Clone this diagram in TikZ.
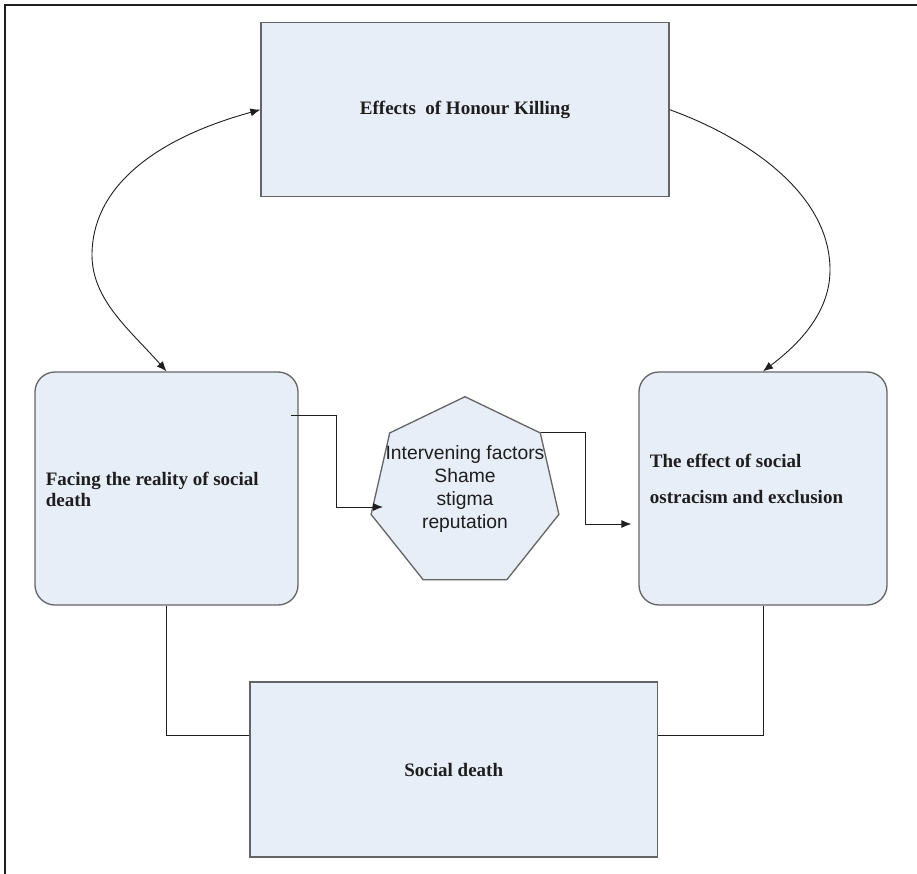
\documentclass[tikz,border=0pt]{standalone}
\usepackage{fontspec}
\setmainfont{Liberation Serif}
\newfontfamily\arialf{Liberation Sans}
\usetikzlibrary{shapes.geometric,arrows.meta}
\definecolor{boxfill}{RGB}{232,238,247}
\definecolor{boxline}{RGB}{100,100,100}
\definecolor{inkc}{RGB}{30,30,30}
\begin{document}
\begin{tikzpicture}[x=1pt,y=-1pt,
  box/.style={draw=boxline, line width=1.3pt, fill=boxfill, inner sep=0pt},
  rbox/.style={box, rounded corners=20pt},
  lbl/.style={font=\fontsize{19}{21}\selectfont\bfseries, text=inkc},
  conn/.style={draw=inkc, line width=0.9pt},
  arr/.style={conn, -{Latex[length=10pt,width=8pt]}},
  darr/.style={conn, {Latex[length=10pt,width=8pt]}-{Latex[length=10pt,width=8pt]}}]
\useasboundingbox[fill=white] (0,0) rectangle (917,874);
% frame
\draw[line width=1.5pt, inkc] (5,874) -- (5,5) -- (917,5);
% boxes
\node[box, minimum width=408pt, minimum height=174pt] (T) at (465,109.7) {};
\node[rbox, minimum width=263pt, minimum height=233pt] (L) at (166.5,488.5) {};
\node[rbox, minimum width=248pt, minimum height=233pt] (R) at (763,488.5) {};
\node[box, minimum width=407.5pt, minimum height=175pt] (B) at (453.75,769.5) {};
\node[box, regular polygon, regular polygon sides=7, minimum size=192.6pt] (H) at (465,493) {};
% texts
\node[lbl] (Tt) at (T.center) {Effects\ \ of Honour Killing};
\node[lbl, anchor=west, align=left] (Lt) at ([shift={(8,1)}]L.west) {Facing the reality of social\\death};
\node[lbl, anchor=west, align=left, font=\fontsize{19}{36}\selectfont\bfseries] (Rt) at ([shift={(8,-9.5)}]R.west) {The effect of social\\ostracism and exclusion};
\node[lbl] (Bt) at (B.center) {Social death};
\node[font=\arialf\fontsize{19.3}{23.3}\selectfont, align=center, text=inkc] (Ht) at ([shift={(0,-4)}]H.center) {Intervening factors\\Shame\\stigma\\reputation};
% curve waypoints
\coordinate (lc) at (92,255);
\coordinate (rc) at (830,270);
% connectors
\draw[darr] (T.west) .. controls (150,140) and (92,190) .. (lc) .. controls (92,300) and (130,330) .. (L.north);
\draw[arr] (T.east) .. controls (740,135) and (830,190) .. (rc) .. controls (830,315) and (795,347) .. (R.north);
\draw[arr] ([shift={(-8,-73.5)}]L.east) -- ++(46,0) |- ([shift={(-82,14)}]H.center);
\draw[arr] (H.corner 7) -- ++(45,0) |- ([shift={(-7,35.5)}]R.west);
\draw[conn] (L.south) |- ([shift={(0,-34)}]B.west);
\draw[conn] (R.south) |- ([shift={(0,-34)}]B.east);
\end{tikzpicture}
\end{document}
